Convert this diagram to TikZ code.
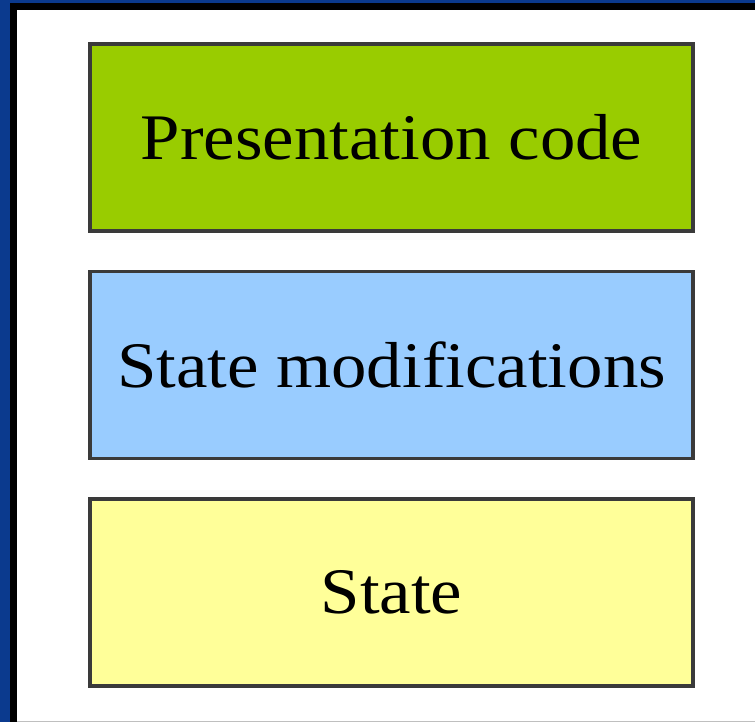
\documentclass[tikz,border=0pt]{standalone}
\usepackage{fontspec}
\setmainfont{Liberation Serif}[FakeStretch=1.09]
\definecolor{framebl}{HTML}{0B3A8E}
\definecolor{boxline}{HTML}{3A3A3A}
\definecolor{cgreen}{HTML}{99CC00}
\definecolor{cblue}{HTML}{99CCFF}
\definecolor{cyellow}{HTML}{FFFF99}
\tikzset{
  layer/.style={draw=boxline, line width=3.5pt, minimum width=603pt, minimum height=187pt, inner sep=0pt, font=\fontsize{65}{78}\selectfont, text=black}
}
\begin{document}
\begin{tikzpicture}[x=1pt,y=-1pt]
\useasboundingbox (0,0) rectangle (755,722);
\fill[white] (0,0) rectangle (755,722);
\fill[framebl] (0,0) rectangle (10,722);
\fill[framebl] (0,0) rectangle (755,3);
\fill[black] (10,3) rectangle (17,722);
\fill[black] (10,3) rectangle (755,10);
\fill[black!25] (17,720.5) rectangle (755,722);
\node[layer, fill=cgreen] (pres) at (391.5,137.5) {Presentation code};
\node[layer, fill=cblue] (mods) at (391.5,365) {State modifications};
\node[layer, fill=cyellow] (state) at (391.5,592.5) {State};
\end{tikzpicture}
\end{document}
